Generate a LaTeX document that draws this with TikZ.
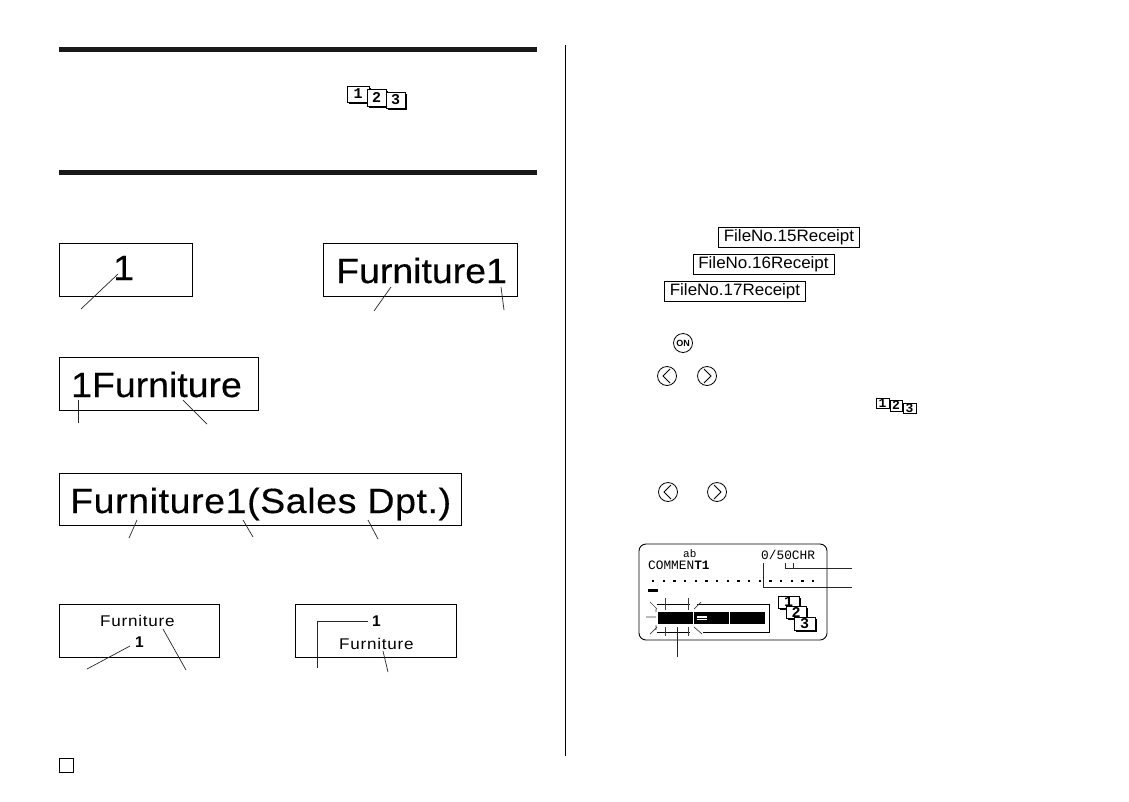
\documentclass[tikz,border=0pt]{standalone}
\usepackage{fontspec}
\setmainfont{Liberation Sans}
\newfontfamily\lsA[FakeStretch=1.07,FakeBold=0.35]{Liberation Sans}
\newfontfamily\lsB[FakeStretch=1.07,FakeBold=0.35,LetterSpace=1.8]{Liberation Sans}
\newfontfamily\lsC[FakeStretch=1.1,LetterSpace=5]{Liberation Sans}
\newfontfamily\lsR[FakeStretch=1.03]{Liberation Sans}
\newfontfamily\lcd{Liberation Mono}
\newcommand{\leaderline}[3]{\coordinate (#1a) at (#2);\coordinate (#1b) at (#3);\draw[leader] (#1a) -- (#1b);}
\newcommand{\cardbox}[7]{%
  \pgfmathsetmacro{\cardfs}{#7*4+9}%
  \fill[black] ({#2+#7},{#3+#7}) rectangle ({#4+#7},{#5+#7});
  \node[cardface,minimum width={(#4-#2)*1pt},minimum height={(#5-#3)*1pt},font=\lcd\bfseries\fontsize{\cardfs}{10}\selectfont] (#1) at ({(#2+#4)/2},{(#3+#5)/2}) {#6};}
\tikzset{
  x=1pt,y=-1pt,
  framebox/.style={draw=black,line width=0.9pt},
  leader/.style={draw=black!85,line width=0.7pt},
  lbl/.style={inner sep=0pt,anchor=base west,text=black},
  rulebar/.style={fill=black!90},
  cardface/.style={draw=black,fill=white,line width=0.9pt,inner sep=0pt,outer sep=0pt},
  receipt/.style={draw=black,line width=0.8pt,inner sep=0pt,minimum width=141pt,minimum height=20pt,font=\lsR\fontsize{16.5}{18}\selectfont},
  keycap/.style={circle,draw=black,line width=0.8pt,inner sep=0pt,minimum size=19pt},
  chev/.style={draw=black,line width=1pt},
  burst/.style={draw=black!75,line width=0.7pt},
  lcdtext/.style={inner sep=0pt,anchor=base west,font=\lcd\fontsize{12.8}{13}\selectfont},
}
\begin{document}
\begin{tikzpicture}
\useasboundingbox (0,0) rectangle (1129,801);
\fill[white] (0,0) rectangle (1129,801);
% page furniture
\fill[rulebar] (59,47) rectangle (537,52);
\fill[rulebar] (59,170) rectangle (537,175);
\draw[line width=0.8pt] (565,45) -- (565,756);
\draw[line width=0.9pt] (59,758) rectangle (73,772);
% header icon
\cardbox{ha}{347}{86}{369}{102}{1}{1.5}
\cardbox{hb}{367}{89}{386}{106}{2}{1.5}
\cardbox{hc}{386}{92}{405}{108}{3}{1.5}
% sample labels
\draw[framebox] (59,243) rectangle (192,296);
\node[lbl,font=\lsA\fontsize{35}{36}\selectfont] (t1) at (113,280) {1};
\leaderline{la}{118,274}{81,309}
\draw[framebox] (323,243) rectangle (517,296);
\node[lbl,font=\lsA\fontsize{35}{36}\selectfont] (t2) at (336,283) {Furniture1};
\leaderline{lb}{391,287}{374,311}
\leaderline{lc}{501,287}{504,310}
\draw[framebox] (59,357) rectangle (258,410);
\node[lbl,font=\lsA\fontsize{35}{36}\selectfont] (t3) at (71,397) {1Furniture};
\leaderline{ld}{78,400}{78,423}
\leaderline{le}{183,400}{207,424}
\draw[framebox] (59,473) rectangle (461,525);
\node[lbl,font=\lsB\fontsize{35}{36}\selectfont] (t4) at (70,513) {Furniture1(Sales Dpt.)};
\leaderline{lf}{137,520}{129,538}
\leaderline{lg}{243,520}{253,537}
\leaderline{lh}{368,520}{378,539}
\draw[framebox] (59,604) rectangle (219,657);
\node[lbl,font=\lsC\fontsize{15.5}{16}\selectfont] (t5) at (100,626) {Furniture};
\node[lbl,font=\bfseries\fontsize{15.5}{16}\selectfont] (t6) at (135,647) {1};
\leaderline{li}{130,646}{87,669}
\leaderline{lj}{163,629}{186,670}
\draw[framebox] (295,604) rectangle (456,657);
\node[lbl,font=\bfseries\fontsize{15.5}{16}\selectfont] (t7) at (372,626) {1};
\node[lbl,font=\lsC\fontsize{15.5}{16}\selectfont] (t8) at (339,649) {Furniture};
\coordinate (lka) at (368,621);\coordinate (lkb) at (317,668);
\draw[leader] (lka) -| (lkb);
\leaderline{ll}{383,651}{388,672}
% receipts
\node[receipt] (r1) at (789,237) {FileNo.15Receipt};
\node[receipt] (r2) at (763.5,264) {FileNo.16Receipt};
\node[receipt] (r3) at (735,291) {FileNo.17Receipt};
% keys
\node[keycap,font=\bfseries\fontsize{9}{9}\selectfont] (kon) at (683,343) {ON};
\node[keycap] (k1) at (667,376) {};
\node[keycap] (k2) at (707,376) {};
\node[keycap] (k3) at (668,492) {};
\node[keycap] (k4) at (717,492) {};
\draw[chev] ([xshift=3pt,yshift=7pt]k1.center) -- ([xshift=-4pt]k1.center) -- ([xshift=3pt,yshift=-7pt]k1.center);
\draw[chev] ([xshift=-3pt,yshift=7pt]k2.center) -- ([xshift=4pt]k2.center) -- ([xshift=-3pt,yshift=-7pt]k2.center);
\draw[chev] ([xshift=3pt,yshift=7pt]k3.center) -- ([xshift=-4pt]k3.center) -- ([xshift=3pt,yshift=-7pt]k3.center);
\draw[chev] ([xshift=-3pt,yshift=7pt]k4.center) -- ([xshift=4pt]k4.center) -- ([xshift=-3pt,yshift=-7pt]k4.center);
% small icon
\cardbox{sa}{876}{398}{889}{408}{1}{1}
\cardbox{sb}{890}{400}{902}{411}{2}{1}
\cardbox{sc}{903}{403}{916}{413}{3}{1}
% LCD
\draw[line width=0.9pt,rounded corners=7pt] (639,544) rectangle (827,640);
\node[lcdtext,font=\lcd\fontsize{11}{12}\selectfont] (ab) at (683,557) {ab};
\node[lcdtext] (cm) at (648,569) {COMMEN\textbf{T1}};
\node[lcdtext] (ch) at (761,559) {0/50CHR};
\foreach \i in {0,...,15} \fill[black] ({653+\i*10.67-1},580) rectangle ++(2.4,2.4);
\fill[black] (648,589) rectangle (658,592);
\draw[line width=0.9pt] (657,604) -- (690,604) (697,604) -- (769,604) -- (769,632.5) -- (703,632.5) (690,632.5) -- (657,632.5);
\fill[black] (658,612) rectangle (693,624);
\fill[black] (694,612) rectangle (729,624);
\fill[black] (730,612) rectangle (765,624);
\fill[white] (697,616) rectangle (707,620);
\draw[black,line width=0.6pt] (697,618) -- (707,618);
\foreach \x in {665,688}{\draw[burst] (\x,598) -- (\x,610);\draw[burst] (\x,627) -- (\x,636);}
\draw[burst] (650,602) -- (657,609) (701,602) -- (694,609) (650,634) -- (657,627) (702,634) -- (694,627) (646,617) -- (656,617) (656,609) -- (656,612) (656,625) -- (656,630);
\cardbox{ca}{778}{596}{799}{608}{1}{1.5}
\cardbox{cb}{786}{606}{806}{618}{2}{1.5}
\cardbox{cc}{794}{617}{815}{630}{3}{1.5}
% LCD leaders
\coordinate (ua) at (785,563);\coordinate (ub) at (793,563);\coordinate (uc) at (852,568);
\coordinate (va) at (763,563);\coordinate (vb) at (852,587);\coordinate (wa) at (677,627);\coordinate (wb) at (677,657);
\draw[leader] (ua) |- (uc);
\draw[leader] (ub) -- (ub |- uc);
\draw[leader] (va) |- (vb);
\draw[leader] (wa) -- (wb);
\end{tikzpicture}
\end{document}
